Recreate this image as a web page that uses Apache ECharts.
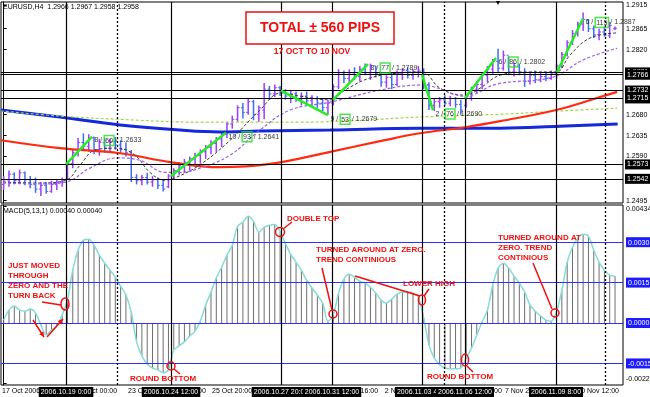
<!DOCTYPE html>
<html>
<head>
<meta charset="utf-8">
<title>EURUSD H4 - MACD</title>
<script src="https://cdn.jsdelivr.net/npm/echarts@6.0.0/dist/echarts.min.js"></script>
<style>
html, body { margin: 0; padding: 0; background: #fff; }
#main { width: 650px; height: 397px; }
</style>
</head>
<body>
<div id="main"></div>
<script>
// H4 bars, 17 Oct 2006 -> 10 Nov 2006 (index = bar number)
var barOpen = [
	1.2530, 1.2540, 1.2552, 1.2538, 1.2555, 1.2540, 1.2530, 1.2520, 1.2528, 1.2515, 1.2530, 1.2535,
	1.2542, 1.2575, 1.2598, 1.2620, 1.2612, 1.2630, 1.2605, 1.2620, 1.2608, 1.2622, 1.2615, 1.2605,
	1.2600, 1.2545, 1.2538, 1.2545, 1.2535, 1.2540, 1.2528, 1.2525, 1.2548, 1.2560, 1.2570, 1.2578,
	1.2585, 1.2592, 1.2600, 1.2610, 1.2618, 1.2628, 1.2638, 1.2660, 1.2670, 1.2695, 1.2685, 1.2708,
	1.2680, 1.2690, 1.2735, 1.2725, 1.2738, 1.2728, 1.2720, 1.2725, 1.2715, 1.2720, 1.2710, 1.2715,
	1.2705, 1.2695, 1.2705, 1.2740, 1.2770, 1.2758, 1.2770, 1.2762, 1.2778, 1.2770, 1.2785, 1.2768,
	1.2750, 1.2760, 1.2745, 1.2768, 1.2775, 1.2765, 1.2772, 1.2776, 1.2745, 1.2700, 1.2708, 1.2712,
	1.2705, 1.2715, 1.2702, 1.2700, 1.2718, 1.2735, 1.2745, 1.2765, 1.2778, 1.2795, 1.2780, 1.2808,
	1.2772, 1.2785, 1.2770, 1.2752, 1.2765, 1.2755, 1.2762, 1.2758, 1.2768, 1.2785, 1.2810, 1.2835,
	1.2855, 1.2875, 1.2885, 1.2865, 1.2852, 1.2858, 1.2850, 1.2865
];
var barClose = [
	1.2540, 1.2552, 1.2538, 1.2555, 1.2540, 1.2530, 1.2520, 1.2528, 1.2515, 1.2530, 1.2535, 1.2540,
	1.2575, 1.2598, 1.2620, 1.2612, 1.2630, 1.2605, 1.2620, 1.2608, 1.2622, 1.2615, 1.2605, 1.2598,
	1.2545, 1.2538, 1.2545, 1.2535, 1.2540, 1.2528, 1.2520, 1.2548, 1.2560, 1.2570, 1.2578, 1.2585,
	1.2592, 1.2600, 1.2610, 1.2618, 1.2628, 1.2638, 1.2660, 1.2670, 1.2695, 1.2685, 1.2708, 1.2680,
	1.2695, 1.2735, 1.2725, 1.2738, 1.2728, 1.2720, 1.2725, 1.2715, 1.2720, 1.2710, 1.2715, 1.2705,
	1.2695, 1.2705, 1.2740, 1.2770, 1.2758, 1.2770, 1.2762, 1.2778, 1.2770, 1.2785, 1.2768, 1.2750,
	1.2760, 1.2745, 1.2768, 1.2775, 1.2765, 1.2772, 1.2776, 1.2745, 1.2700, 1.2708, 1.2712, 1.2705,
	1.2715, 1.2702, 1.2690, 1.2718, 1.2735, 1.2745, 1.2765, 1.2778, 1.2795, 1.2780, 1.2808, 1.2772,
	1.2785, 1.2770, 1.2752, 1.2765, 1.2755, 1.2762, 1.2758, 1.2768, 1.2785, 1.2810, 1.2835, 1.2855,
	1.2875, 1.2885, 1.2865, 1.2852, 1.2858, 1.2850, 1.2872, 1.2866
];
var barLow = [
	1.2518, 1.2525, 1.2530, 1.2532, 1.2528, 1.2522, 1.2512, 1.2505, 1.2510, 1.2512, 1.2518, 1.2525,
	1.2540, 1.2565, 1.2590, 1.2605, 1.2600, 1.2595, 1.2592, 1.2598, 1.2600, 1.2605, 1.2598, 1.2590,
	1.2535, 1.2530, 1.2528, 1.2530, 1.2525, 1.2520, 1.2515, 1.2522, 1.2540, 1.2550, 1.2555, 1.2560,
	1.2568, 1.2575, 1.2585, 1.2595, 1.2600, 1.2610, 1.2630, 1.2650, 1.2665, 1.2672, 1.2680, 1.2668,
	1.2665, 1.2670, 1.2712, 1.2718, 1.2720, 1.2712, 1.2705, 1.2708, 1.2700, 1.2702, 1.2698, 1.2695,
	1.2688, 1.2680, 1.2700, 1.2735, 1.2748, 1.2750, 1.2755, 1.2752, 1.2765, 1.2755, 1.2760, 1.2740,
	1.2738, 1.2735, 1.2742, 1.2755, 1.2758, 1.2755, 1.2760, 1.2735, 1.2690, 1.2688, 1.2695, 1.2700,
	1.2698, 1.2695, 1.2680, 1.2695, 1.2710, 1.2725, 1.2735, 1.2750, 1.2768, 1.2770, 1.2775, 1.2765,
	1.2762, 1.2765, 1.2740, 1.2745, 1.2748, 1.2750, 1.2752, 1.2755, 1.2758, 1.2780, 1.2805, 1.2830,
	1.2848, 1.2860, 1.2858, 1.2845, 1.2840, 1.2848, 1.2845, 1.2862
];
var barHigh = [
	1.2548, 1.2560, 1.2556, 1.2562, 1.2558, 1.2548, 1.2545, 1.2535, 1.2535, 1.2538, 1.2540, 1.2545,
	1.2580, 1.2605, 1.2630, 1.2640, 1.2638, 1.2633, 1.2628, 1.2630, 1.2628, 1.2632, 1.2625, 1.2620,
	1.2604, 1.2552, 1.2550, 1.2555, 1.2548, 1.2545, 1.2540, 1.2552, 1.2565, 1.2578, 1.2585, 1.2590,
	1.2598, 1.2605, 1.2615, 1.2625, 1.2632, 1.2642, 1.2665, 1.2678, 1.2700, 1.2705, 1.2716, 1.2712,
	1.2700, 1.2748, 1.2742, 1.2745, 1.2742, 1.2735, 1.2732, 1.2730, 1.2728, 1.2730, 1.2722, 1.2720,
	1.2715, 1.2712, 1.2745, 1.2778, 1.2775, 1.2778, 1.2782, 1.2785, 1.2790, 1.2790, 1.2785, 1.2772,
	1.2765, 1.2770, 1.2775, 1.2780, 1.2782, 1.2778, 1.2785, 1.2780, 1.2750, 1.2715, 1.2718, 1.2722,
	1.2720, 1.2718, 1.2712, 1.2722, 1.2740, 1.2752, 1.2770, 1.2785, 1.2800, 1.2822, 1.2818, 1.2805,
	1.2792, 1.2790, 1.2780, 1.2772, 1.2775, 1.2772, 1.2770, 1.2775, 1.2790, 1.2815, 1.2840, 1.2862,
	1.2880, 1.2900, 1.2885, 1.2872, 1.2865, 1.2870, 1.2880, 1.2870
];

// MACD(5,13,1) per bar
var macdValues = [
	0.00011, 0.00048, 0.00063, 0.00048, 0.00044, 0.00052, 0.00037, -0.00007, -0.00044, -0.00026, -0.00011, 0.00030,
	0.00085, 0.00196, 0.00270, 0.00307, 0.00311, 0.00289, 0.00252, 0.00222, 0.00196, 0.00170, 0.00137, 0.00104,
	0.00041, -0.00070, -0.00122, -0.00152, -0.00167, -0.00174, -0.00185, -0.00174, -0.00100, -0.00085, -0.00070, -0.00048,
	-0.00030, 0.00007, 0.00067, 0.00115, 0.00167, 0.00207, 0.00252, 0.00289, 0.00359, 0.00374, 0.00396, 0.00377,
	0.00337, 0.00355, 0.00363, 0.00366, 0.00340, 0.00296, 0.00255, 0.00226, 0.00196, 0.00159, 0.00130, 0.00104,
	0.00074, 0.00007, 0.00030, 0.00111, 0.00163, 0.00181, 0.00170, 0.00155, 0.00148, 0.00133, 0.00111, 0.00085,
	0.00074, 0.00089, 0.00107, 0.00115, 0.00115, 0.00111, 0.00096, 0.00019, -0.00081, -0.00130, -0.00155, -0.00167,
	-0.00170, -0.00170, -0.00167, -0.00130, -0.00093, -0.00044, 0.00004, 0.00048, 0.00141, 0.00204, 0.00222, 0.00204,
	0.00174, 0.00148, 0.00115, 0.00067, 0.00044, 0.00026, 0.00011, 0.00007, 0.00041, 0.00122, 0.00226, 0.00281,
	0.00315, 0.00329, 0.00322, 0.00270, 0.00226, 0.00196, 0.00178, 0.00174
];

// moving averages: [bar, price]
var maBlue = [[-0.5, 1.2690], [10.6, 1.2675], [21.9, 1.2658], [33.2, 1.2647], [40.7, 1.2643], [48.2, 1.2645],
	[61.4, 1.2647], [78.3, 1.2651], [93.4, 1.2651], [104.6, 1.2655], [115.5, 1.2660]];
var maGreen = [[-0.5, 1.2688], [10.6, 1.2677], [21.9, 1.2670], [36.9, 1.2664], [55.7, 1.2664], [67.0, 1.2668],
	[78.3, 1.2675], [93.4, 1.2681], [104.6, 1.2688], [115.4, 1.2694]];
var maRed = [[-0.5, 1.2625], [10.6, 1.2608], [21.9, 1.2597], [31.3, 1.2578], [40.7, 1.2567], [50.1, 1.2574],
	[61.4, 1.2600], [70.8, 1.2623], [78.3, 1.2640], [86.8, 1.2653], [93.4, 1.2666], [103.9, 1.2690],
	[112.2, 1.2718], [115.4, 1.2729]];
var maBlack = [[-0.1, 1.2535], [6.8, 1.2533], [11.7, 1.2539], [14.4, 1.2572], [17.2, 1.2604], [21.3, 1.2608],
	[24.7, 1.2593], [27.5, 1.2556], [30.3, 1.2539], [32.2, 1.2544], [36.9, 1.2572], [42.6, 1.2625],
	[48.2, 1.2690], [52.2, 1.2727], [55.7, 1.2720], [61.4, 1.2712], [64.2, 1.2733], [68.9, 1.2759],
	[74.5, 1.2770], [78.7, 1.2772], [82.1, 1.2737], [86.8, 1.2722], [89.6, 1.2737], [93.4, 1.2765],
	[99.0, 1.2772], [103.9, 1.2772], [106.5, 1.2808], [110.3, 1.2845], [115.4, 1.2856]];
var maPurple = [[-0.1, 1.2533], [6.8, 1.2531], [11.7, 1.2535], [16.2, 1.2565], [21.3, 1.2587], [25.6, 1.2582],
	[30.3, 1.2556], [33.2, 1.2556], [36.9, 1.2565], [42.6, 1.2593], [48.2, 1.2647], [53.9, 1.2690],
	[61.4, 1.2707], [70.8, 1.2733], [78.7, 1.2744], [86.8, 1.2720], [92.8, 1.2746], [103.3, 1.2761],
	[109.0, 1.2798], [115.4, 1.2823]];

// swings: start / end [bar, price], bars and pips
var trendFrom = [[11.73, 1.2573], [31.48, 1.2548], [52.17, 1.2732], [61.95, 1.2712], [78.69, 1.2766], [86.78, 1.2716], [104.09, 1.2772]];
var trendTo = [[16.62, 1.2633], [41.82, 1.2641], [61.01, 1.2679], [68.54, 1.2789], [80.76, 1.2690], [92.61, 1.2802], [108.98, 1.2887]];
var trendBars = [8, 10, 9, 8, 2, 6, 6];
var trendPips = [60, 93, 53, 77, 76, 86, 115];

var hLines = [1.2771, 1.2766, 1.2732, 1.2715, 1.2573, 1.2542];
var vLines = [11.73, 31.48, 52.17, 61.76, 78.69, 86.78, 103.9];
var vLabels = ['2006.10.19 0:00', '2006.10.24 12:00', '2006.10.27 20:00', '2006.10.31 12:00', '2006.11.03 4:00', '2006.11.06 12:00', '2006.11.09 8:00'];
var dotLines = [21.33, 82.83, 113.1];

var priceTicks = [1.2495, 1.2590, 1.2635, 1.2680, 1.2820, 1.2865, 1.2915];
var macdTicks = [-0.00224, -0.0015, 0, 0.0015, 0.0030, 0.00434];
var macdLevels = [0.0030, 0.0015, 0, -0.0015];
var timePos = [-0.31, 13.8, 23.4, 30.5, 39.2, 62.9, 71.7, 86.6, 94.3, 107.9];
var timeText = ['17 Oct 2006', '20 Oct 00:00', '23 Oct 04:00', '24 Oct 12:00', '25 Oct 20:00', '31 Oct 16:00', '2 Nov 04:00', '6 Nov 12:00', '7 Nov 20:00', '10 Nov 12:00'];

var FONT = '"Liberation Sans", Arial, sans-serif';
var upColor = '#9b3dff', downColor = '#3f6df2';

var chart = echarts.init(document.getElementById('main'));

function renderOhlc(params, api) {
	var i = api.value(0), open = api.value(1), close = api.value(2);
	var lo = api.coord([i, api.value(3)]), hi = api.coord([i, api.value(4)]);
	var po = api.coord([i, open]), pc = api.coord([i, close]);
	var col = close >= open ? upColor : downColor;
	return {
		type: 'group',
		children: [
			{type: 'line', shape: {x1: lo[0], y1: lo[1], x2: hi[0], y2: hi[1]}, style: {stroke: col, lineWidth: 1.5}},
			{type: 'line', shape: {x1: po[0] - 2, y1: po[1], x2: po[0], y2: po[1]}, style: {stroke: col, lineWidth: 1}},
			{type: 'line', shape: {x1: pc[0], y1: pc[1], x2: pc[0] + 2, y2: pc[1]}, style: {stroke: col, lineWidth: 1}}
		]
	};
}

var ohlcData = barClose.map(function(c, i) {
	return [i, barOpen[i], c, barLow[i], barHigh[i]];
});
var macdData = macdValues.map(function(v, i) {
	return [i, v];
});

var boxLabel = {
	show: true, color: '#fff', backgroundColor: '#000', fontSize: 7, fontFamily: FONT,
	padding: [2, 2, 1, 2], distance: 2
};

// vertical lines, shared by both panes
function vertMarks(withLabels) {
	var out = vLines.map(function(x, k) {
		return {
			xAxis: x,
			lineStyle: {color: '#000', width: 1.2, type: 'solid'},
			label: withLabels ? echarts.util.extend({position: 'start', formatter: vLabels[k]}, boxLabel) : {show: false}
		};
	});
	dotLines.forEach(function(x) {
		out.push({xAxis: x, lineStyle: {color: '#000', width: 1.3, type: [2, 2]}, label: {show: false}});
	});
	return out;
}

var priceMarks = vertMarks(false).concat(hLines.map(function(v) {
	return {
		yAxis: v,
		lineStyle: {color: '#000', width: 1, type: 'solid'},
		label: echarts.util.extend({position: 'end', formatter: v.toFixed(4)}, boxLabel)
	};
}));

var macdMarks = macdLevels.map(function(v) {
	return {yAxis: v, lineStyle: {color: '#2f2fff', width: 1, type: 'solid'}, label: {show: false}};
}).concat(vertMarks(true));

var trendSegments = trendFrom.map(function(p, k) {
	return [{coord: p}, {coord: trendTo[k]}];
});

function maSeries(name, data, color, width, dashed) {
	return {
		name: name, type: 'line', xAxisIndex: 0, yAxisIndex: 0, data: data,
		smooth: 0.4, showSymbol: false, symbol: 'none', silent: true,
		lineStyle: {color: color, width: width, type: dashed ? [3, 2] : 'solid'}
	};
}

var blueSeries = maSeries('MA blue', maBlue, '#1428dc', 3, false);
blueSeries.markLine = {symbol: ['none', 'none'], silent: true, animation: false, precision: 6, data: priceMarks};

// annotations
var red = '#f01010';
var notes = [
	{t: 'JUST MOVED\nTHROUGH\nZERO AND THE\nTURN BACK', x: 8, y: 261},
	{t: 'ROUND BOTTOM', x: 130, y: 374},
	{t: 'DOUBLE TOP', x: 287, y: 214},
	{t: 'TURNED AROUND AT ZERO.\nTREND CONTINIOUS', x: 316, y: 245},
	{t: 'LOWER HIGH', x: 403, y: 279},
	{t: 'ROUND BOTTOM', x: 427, y: 372},
	{t: 'TURNED AROUND AT\nZERO. TREND\nCONTINIOUS', x: 498, y: 233}
];
var rings = [[65, 304, 4, 6], [171, 366, 4, 4], [280, 232, 4.5, 4.5], [333, 314, 4, 4], [422, 300, 3.5, 5], [465, 360, 3.5, 6], [555, 313, 4, 4]];
var leaders = [[42, 302, 61, 305], [174, 369, 180, 374], [283, 229, 292, 222], [322, 268, 332, 310],
	[355, 276, 420, 296], [424, 296, 429, 289], [467, 366, 473, 372], [533, 263, 552, 309]];
var arrows = [[33, 320, 44, 337], [47, 337, 63, 319]];

var graphics = [];
graphics.push({type: 'rect', z: 100, shape: {x: 246, y: 12, width: 148, height: 32},
	style: {fill: '#fff', stroke: red, lineWidth: 1.5}});
graphics.push({type: 'text', z: 101, style: {text: 'TOTAL \u00b1 560 PIPS', x: 320, y: 28, align: 'center', verticalAlign: 'middle',
	fill: red, font: 'bold 14px ' + FONT}});
graphics.push({type: 'text', z: 101, style: {text: '17 OCT TO 10 NOV', x: 312, y: 52, align: 'center', verticalAlign: 'middle',
	fill: red, font: 'bold 8.5px ' + FONT}});
graphics.push({type: 'text', z: 101, style: {text: 'EURUSD,H4  1.2966 1.2967 1.2958 1.2958', x: 3, y: 4,
	fill: '#000', font: '7px ' + FONT}});
graphics.push({type: 'text', z: 101, style: {text: 'MACD(5,13,1) 0.00040 0.00040', x: 3, y: 208,
	fill: '#000', font: '7px ' + FONT}});
graphics.push({type: 'text', z: 101, style: {text: '\u25bc', x: 498, y: 0, align: 'center', fill: '#000', font: '7px ' + FONT}});
notes.forEach(function(n) {
	graphics.push({type: 'text', z: 101, style: {text: n.t, x: n.x, y: n.y, fill: red,
		font: 'bold 8px ' + FONT, lineHeight: 10}});
});
rings.forEach(function(r) {
	graphics.push({type: 'ellipse', z: 101, shape: {cx: r[0], cy: r[1], rx: r[2], ry: r[3]},
		style: {fill: 'none', stroke: red, lineWidth: 1.5}});
});
leaders.concat(arrows).forEach(function(l) {
	graphics.push({type: 'line', z: 101, shape: {x1: l[0], y1: l[1], x2: l[2], y2: l[3]},
		style: {stroke: red, lineWidth: 1.5}});
});
arrows.forEach(function(a) {
	var dx = a[2] - a[0], dy = a[3] - a[1], len = Math.sqrt(dx * dx + dy * dy);
	var ux = dx / len, uy = dy / len, bx = a[2] - ux * 5, by = a[3] - uy * 5;
	graphics.push({type: 'polygon', z: 101, shape: {points: [[a[2], a[3]], [bx - uy * 2.5, by + ux * 2.5], [bx + uy * 2.5, by - ux * 2.5]]},
		style: {fill: red}});
});

var option = {
	animation: false,
	backgroundColor: '#fff',
	textStyle: {fontFamily: FONT},
	grid: [
		{left: 1, right: 27, top: 2, height: 201, show: true, borderColor: '#000', borderWidth: 1, backgroundColor: '#fff', outerBoundsMode: 'none'},
		{left: 1, right: 27, top: 205, height: 180, show: true, borderColor: '#000', borderWidth: 1, backgroundColor: '#fff', outerBoundsMode: 'none'}
	],
	xAxis: [
		{type: 'value', gridIndex: 0, min: -0.5, max: 116.5, show: false},
		{
			type: 'value', gridIndex: 1, min: -0.5, max: 116.5,
			axisLine: {show: true, lineStyle: {color: '#000'}},
			axisTick: {show: false},
			splitLine: {show: false},
			axisLabel: {
				customValues: timePos, align: 'left', margin: 3,
				color: '#000', fontSize: 7, fontFamily: FONT,
				formatter: function(v) {
					var k = timePos.indexOf(v);
					return k >= 0 ? timeText[k] : '';
				}
			}
		}
	],
	yAxis: [
		{
			type: 'value', gridIndex: 0, position: 'right', min: 1.2490, max: 1.29225,
			axisLine: {show: true, lineStyle: {color: '#000'}},
			axisTick: {show: true, customValues: priceTicks, length: 3, lineStyle: {color: '#000'}},
			splitLine: {show: false},
			axisLabel: {
				customValues: priceTicks, margin: 3, color: '#000', fontSize: 7, fontFamily: FONT,
				formatter: function(v) { return v.toFixed(4); }
			}
		},
		{
			type: 'value', gridIndex: 1, position: 'right', min: -0.0023, max: 0.00438,
			axisLine: {show: true, lineStyle: {color: '#000'}},
			axisTick: {show: true, customValues: macdTicks, length: 3, lineStyle: {color: '#000'}},
			splitLine: {show: false},
			axisLabel: {
				customValues: macdTicks, margin: 3, fontSize: 7, fontFamily: FONT,
				formatter: function(v) {
					if (macdLevels.indexOf(v) >= 0) return '{b|' + v.toFixed(4) + '}';
					return (v > 0 ? '{top|' : '{bot|') + v.toFixed(5) + '}';
				},
				rich: {
					b: {color: '#fff', backgroundColor: '#1c1cff', padding: [2, 2, 1, 2], fontSize: 7, fontFamily: FONT},
					top: {color: '#000', fontSize: 7, fontFamily: FONT, padding: [6, 0, 0, 0]},
					bot: {color: '#000', fontSize: 7, fontFamily: FONT, padding: [0, 0, 9, 0]}
				}
			}
		}
	],
	series: [
		blueSeries,
		maSeries('MA green', maGreen, '#a6d44a', 1.2, true),
		maSeries('MA red', maRed, '#ff2a10', 2.2, false),
		{
			name: 'EURUSD', type: 'custom', xAxisIndex: 0, yAxisIndex: 0,
			renderItem: renderOhlc, data: ohlcData, encode: {x: 0, y: [1, 2, 3, 4]}, silent: true
		},
		maSeries('MA black', maBlack, '#3a3a3a', 1, true),
		maSeries('MA purple', maPurple, '#9a5ff0', 1.2, true),
		{
			name: 'swings', type: 'scatter', xAxisIndex: 0, yAxisIndex: 0, data: trendTo, symbolSize: 1,
			itemStyle: {color: 'rgba(0,0,0,0)'}, silent: true, z: 5,
			label: {
				show: true, position: 'right', distance: 2, offset: [0, 4],
				formatter: function(p) {
					var k = p.dataIndex;
					return '{n|' + trendBars[k] + ' / }{g|' + trendPips[k] + '}{n| / ' + trendTo[k][1].toFixed(4) + '}';
				},
				rich: {
					n: {color: '#000', fontSize: 7, fontFamily: FONT},
					g: {color: '#000', fontSize: 7, fontFamily: FONT, borderColor: '#22e022', borderWidth: 1.5, padding: [2, 1, 1, 1]}
				}
			},
			markLine: {
				symbol: ['none', 'none'], silent: true, animation: false, precision: 6,
				lineStyle: {color: '#22ee22', width: 2.5, type: 'solid'},
				label: {show: false},
				data: trendSegments
			}
		},
		{
			name: 'MACD', type: 'bar', xAxisIndex: 1, yAxisIndex: 1, data: macdData,
			barWidth: 1, itemStyle: {color: '#6e6e6e'}, silent: true
		},
		{
			name: 'Signal', type: 'line', xAxisIndex: 1, yAxisIndex: 1, data: macdData,
			showSymbol: false, symbol: 'none', smooth: 0.3, silent: true,
			lineStyle: {color: '#86dcd6', width: 1.5},
			markLine: {symbol: ['none', 'none'], silent: true, animation: false, precision: 6, data: macdMarks}
		}
	],
	graphic: graphics
};

chart.setOption(option);
</script>
</body>
</html>
